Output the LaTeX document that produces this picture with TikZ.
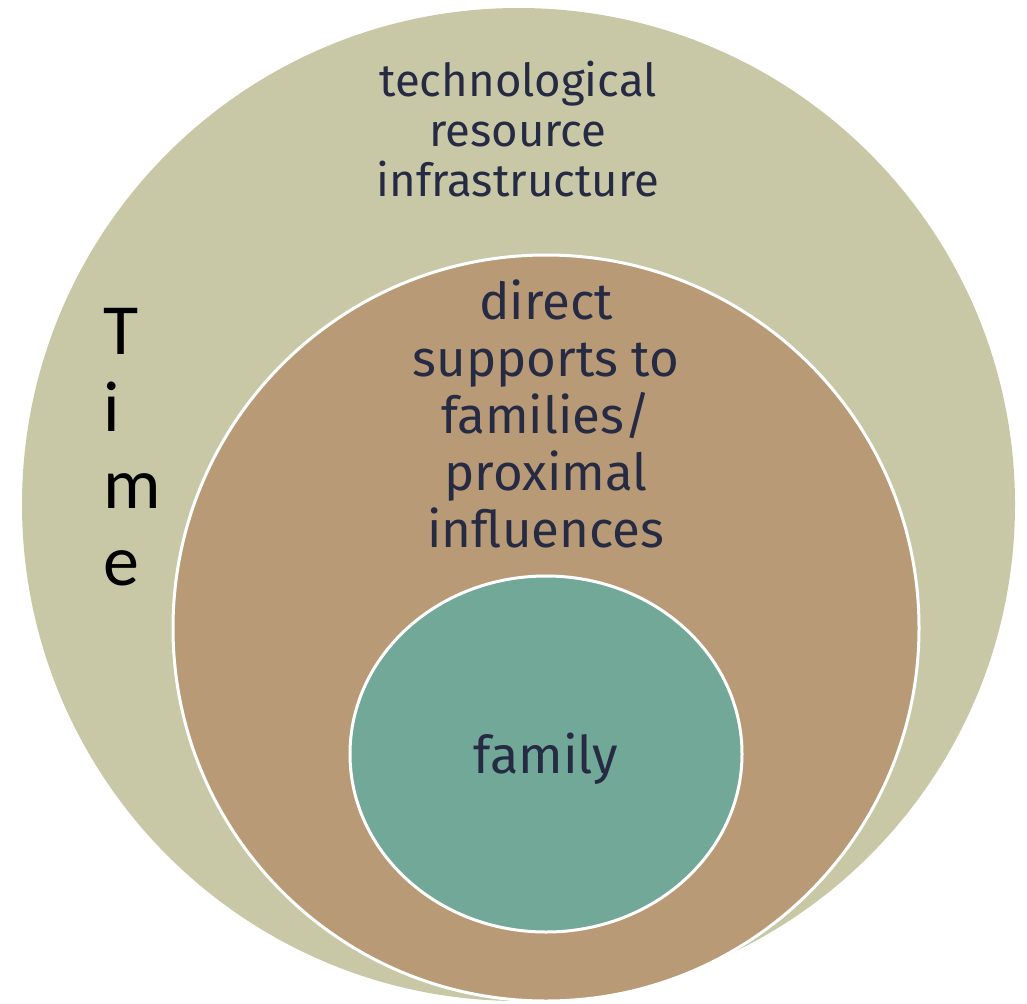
\documentclass[tikz,border=0pt]{standalone}
\usepackage{fontspec}
\setmainfont{Fira Sans}
\newfontfamily\timefont{Carlito}
\definecolor{khaki}{HTML}{C8C8A7}
\definecolor{tan}{HTML}{B89B76}
\definecolor{teal}{HTML}{72A898}
\definecolor{navy}{HTML}{262B43}
\tikzset{
  ring/.style={draw=white, line width=3pt},
  label/.style={text=navy, align=center, inner sep=0pt},
}
\begin{document}
\begin{tikzpicture}[x=1pt,y=-1pt]
\useasboundingbox (0,0) rectangle (1027,1003);
\fill[khaki] (518.5,504.5) circle [radius=496.5pt];
\coordinate (outer) at (518.5,504.5);
\filldraw[tan, ring] (546,628) circle [radius=373pt];
\coordinate (middle) at (546,628);
\filldraw[teal, ring] (546,754) ellipse [x radius=196pt, y radius=178pt];
\coordinate (inner) at (546,754);
\node[label, font=\fontsize{45.5}{50}\selectfont] (tech) at (518,129.5)
  {technological\\resource\\infrastructure};
\node[label, font=\fontsize{51}{57}\selectfont] (direct) at (546,414)
  {direct\\supports to\\families/\\proximal\\influences};
\node[label, font=\fontsize{52}{55}\selectfont, anchor=base] (family) at (546,773) {family};
\node[inner sep=0pt, align=left, anchor=west, text=black,
  font=\timefont\fontsize{72}{77}\selectfont] (time) at (103,447.5) {T\\i\\m\\e};
\end{tikzpicture}
\end{document}
